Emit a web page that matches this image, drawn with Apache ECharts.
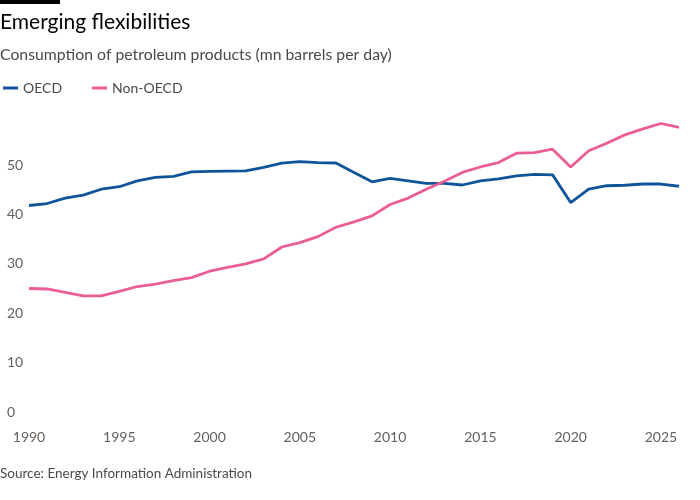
<!DOCTYPE html>
<html>
<head>
<meta charset="utf-8">
<script src="https://cdn.jsdelivr.net/npm/echarts@6/dist/echarts.min.js"></script>
<style>
  html, body { margin: 0; padding: 0; background: #fff; }
  #chart { width: 700px; height: 500px; }
</style>
</head>
<body>
<div id="chart"></div>
<script>
const years = []
for (let y = 1990; y <= 2026; y++) years.push(y)

const oecd = [41.8, 42.2, 43.3, 43.9, 45.1, 45.6, 46.8, 47.5, 47.7, 48.6,
  48.7, 48.75, 48.8, 49.5, 50.4, 50.7, 50.5, 50.4, 48.5, 46.6,
  47.3, 46.8, 46.3, 46.3, 45.95, 46.8, 47.2, 47.8, 48.1, 48.0,
  42.4, 45.1, 45.8, 45.9, 46.15, 46.15, 45.7]

const nonOecd = [25.0, 24.9, 24.2, 23.5, 23.5, 24.4, 25.4, 25.9, 26.6, 27.2,
  28.5, 29.3, 30.0, 31.0, 33.4, 34.3, 35.5, 37.4, 38.5, 39.7,
  42.0, 43.3, 45.1, 46.7, 48.5, 49.6, 50.5, 52.4, 52.5, 53.2,
  49.6, 52.9, 54.4, 56.1, 57.3, 58.4, 57.6]

const yTicks = [0, 10, 20, 30, 40, 50]
const xTicks = [1990, 1995, 2000, 2005, 2010, 2015, 2020, 2025]

const pairs = arr => arr.map((v, i) => [years[i], v])

const font = 'Lato, "Noto Sans", sans-serif'

const option = {
  backgroundColor: '#fff',
  animation: false,
  graphic: [
    { type: 'rect', left: 0, top: 0, shape: { width: 60, height: 4 }, style: { fill: '#000' } },
    { type: 'text', left: 0, top: 12, style: { text: 'Emerging flexibilities', fill: '#000', font: '21px ' + font } },
    { type: 'text', left: 0, top: 47, style: { text: 'Consumption of petroleum products (mn barrels per day)', fill: '#4d4845', font: '15.8px ' + font } },
    { type: 'text', left: 0, top: 467, style: { text: 'Source: Energy Information Administration', fill: '#4d4845', font: '13.5px ' + font } }
  ],
  legend: {
    left: -2, top: 76,
    icon: 'rect', itemWidth: 15, itemHeight: 3, itemGap: 30,
    textStyle: { color: '#4d4845', fontSize: 14, fontFamily: font },
    data: ['OECD', 'Non-OECD']
  },
  grid: { left: 29, right: 21, top: 115.6, bottom: 88 },
  xAxis: {
    type: 'value', min: 1990, max: 2026, interval: 5,
    axisLine: { show: false }, axisTick: { show: false }, splitLine: { show: false },
    axisLabel: {
      margin: 18, color: '#66605c', fontSize: 14, fontFamily: font,
      formatter: v => xTicks.includes(v) ? String(v) : ''
    }
  },
  yAxis: {
    type: 'value', min: 0, max: 60, interval: 10,
    axisLine: { show: false }, axisTick: { show: false }, splitLine: { show: false },
    axisLabel: {
      align: 'left', margin: 22, color: '#66605c', fontSize: 14, fontFamily: font,
      formatter: v => yTicks.includes(v) ? String(v) : ''
    }
  },
  series: [
    {
      name: 'OECD', type: 'line', data: pairs(oecd), showSymbol: false,
      color: '#0f5499', lineStyle: { width: 2.8, color: '#0f5499' }
    },
    {
      name: 'Non-OECD', type: 'line', data: pairs(nonOecd), showSymbol: false,
      color: '#eb5e95', lineStyle: { width: 2.8, color: '#eb5e95' }
    }
  ]
}

const myChart = echarts.init(document.getElementById('chart'))
myChart.setOption(option)
</script>
</body>
</html>
